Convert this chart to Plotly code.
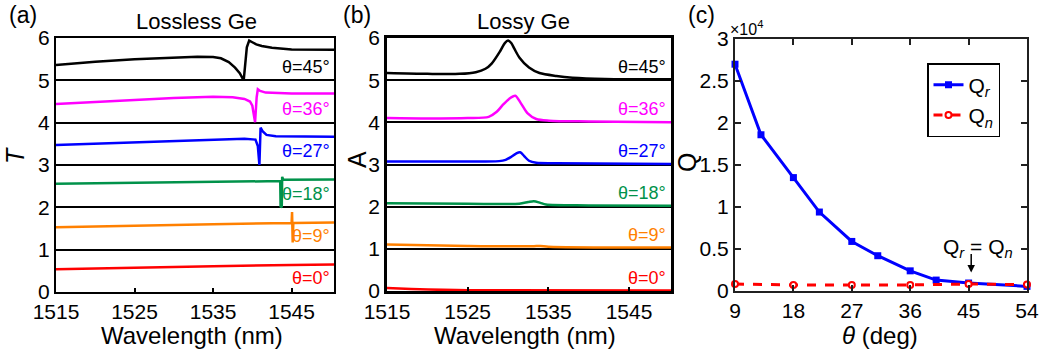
import plotly.graph_objects as go

# ---------------- Panel (a): Lossless Ge, transmission (offset by angle) ----------------
a_labels = ["θ=0°", "θ=9°", "θ=18°", "θ=27°", "θ=36°", "θ=45°"]
colors = ["#FF0000", "#FF8000", "#00924A", "#0000FF", "#FF00FF", "#000000"]

T0_wl = [1515, 1525, 1535, 1545, 1550.4]
T0 = [0.54, 0.58, 0.61, 0.64, 0.65]

T9_wl = [1515, 1525, 1535, 1545.0, 1545.06, 1545.14, 1545.22, 1550.4]
T9 = [1.53, 1.57, 1.60, 1.63, 1.89, 1.17, 1.63, 1.64]

T18_wl = [1515, 1525, 1535, 1543.55, 1543.6, 1543.75, 1543.8, 1543.95, 1550.4]
T18 = [2.56, 2.58, 2.60, 2.62, 2.00, 2.02, 2.72, 2.65, 2.66]

T27_wl = [1515, 1520, 1525, 1530, 1535, 1539, 1540.4, 1540.7, 1540.9, 1541.05, 1541.3, 1541.8, 1543, 1550.4]
T27 = [3.47, 3.50, 3.53, 3.57, 3.60, 3.62, 3.60, 3.45, 3.00, 3.88, 3.80, 3.71, 3.68, 3.67]

T36_wl = [1515, 1520, 1525, 1530, 1535, 1537.5, 1539, 1539.7, 1540.0, 1540.2, 1540.35, 1540.55, 1540.7, 1541, 1541.7, 1545, 1550.4]
T36 = [4.44, 4.49, 4.53, 4.58, 4.61, 4.60, 4.56, 4.50, 4.40, 4.20, 4.01, 4.60, 4.79, 4.75, 4.71, 4.69, 4.69]

T45_wl = [1515, 1520, 1525, 1530, 1533, 1535, 1536, 1537, 1537.8, 1538.4, 1538.7, 1538.9, 1539.3, 1539.6, 1540, 1540.5, 1541.2, 1542.5, 1545, 1550.4]
T45 = [5.36, 5.44, 5.50, 5.54, 5.56, 5.55, 5.52, 5.43, 5.30, 5.17, 5.08, 5.00, 5.78, 5.94, 5.90, 5.85, 5.81, 5.77, 5.73, 5.72]

# ---------------- Panel (b): Lossy Ge, absorption (offset by angle) ----------------
A0_wl = [1515, 1518, 1525, 1550.2]
A0 = [0.07, 0.05, 0.02, 0.01]

A9_wl = [1515, 1525, 1533, 1534, 1535, 1550.2]
A9 = [1.10, 1.07, 1.06, 1.07, 1.05, 1.03]

A18_wl = [1515, 1525, 1531.4, 1532.5, 1533.2, 1534, 1534.7, 1540, 1550.2]
A18 = [2.08, 2.07, 2.07, 2.11, 2.13, 2.09, 2.05, 2.03, 2.02]

A27_wl = [1515, 1522, 1528.9, 1529.7, 1530.3, 1531.0, 1531.5, 1532.0, 1532.6, 1533.5, 1536, 1550.2]
A27 = [3.07, 3.07, 3.08, 3.11, 3.17, 3.26, 3.29, 3.20, 3.09, 3.04, 3.03, 3.01]

A36_wl = [1515, 1520, 1525, 1527.6, 1528.6, 1529.3, 1530.1, 1530.9, 1531.6, 1532.4, 1533.5, 1535.1, 1540, 1550.2]
A36 = [4.10, 4.09, 4.10, 4.13, 4.25, 4.40, 4.55, 4.63, 4.45, 4.22, 4.08, 4.04, 4.02, 4.00]

A45_wl = [1515, 1520, 1524, 1526, 1527.2, 1528, 1529, 1529.6, 1530, 1530.4, 1530.8, 1531.4, 1532.6, 1533.9, 1536, 1538, 1542, 1550.2]
A45 = [5.17, 5.15, 5.15, 5.19, 5.27, 5.40, 5.68, 5.88, 5.94, 5.88, 5.74, 5.54, 5.30, 5.17, 5.10, 5.06, 5.03, 5.02]

# ---------------- Panel (c): Q factors ----------------
theta_r = [9, 13, 18, 22, 27, 31, 36, 40, 45, 54]
Q_r = [27000, 18600, 13500, 9400, 5900, 4200, 2400, 1300, 950, 550]
theta_n = [9, 18, 27, 36, 45, 54]
Q_n = [830, 720, 720, 720, 830, 760]

x_ticks_wl = [1515, 1525, 1535, 1545]
y_ticks_stack = [0, 1, 2, 3, 4, 5, 6]
theta_ticks = [9, 18, 27, 36, 45, 54]
q_tickvals = [0, 5000, 10000, 15000, 20000, 25000, 30000]
q_ticktext = ["0", "0.5", "1", "1.5", "2", "2.5", "3"]

FONT = "Liberation Sans, Arial, sans-serif"
W, H = 1039, 352
TICK = 21

def px(x):
    return x / W

def py(y):
    return 1 - y / H

fig = go.Figure()

T_sets = [(T0_wl, T0), (T9_wl, T9), (T18_wl, T18), (T27_wl, T27), (T36_wl, T36), (T45_wl, T45)]
A_sets = [(A0_wl, A0), (A9_wl, A9), (A18_wl, A18), (A27_wl, A27), (A36_wl, A36), (A45_wl, A45)]

for (xw, yv), c in zip(T_sets, colors):
    fig.add_trace(go.Scatter(x=xw, y=yv, mode="lines", line=dict(color=c, width=2.5),
                             xaxis="x", yaxis="y", showlegend=False))
for (xw, yv), c in zip(A_sets, colors):
    fig.add_trace(go.Scatter(x=xw, y=yv, mode="lines", line=dict(color=c, width=2.5, shape="spline", smoothing=0.8),
                             xaxis="x2", yaxis="y2", showlegend=False))

fig.add_trace(go.Scatter(x=theta_r, y=Q_r, mode="lines+markers", name="Q<sub><i>r</i></sub>",
                         line=dict(color="#0000FF", width=3),
                         marker=dict(symbol="square", size=7, color="#0000FF"),
                         xaxis="x3", yaxis="y3", cliponaxis=False))
fig.add_trace(go.Scatter(x=theta_n, y=Q_n, mode="lines+markers", name="Q<sub><i>n</i></sub>",
                         line=dict(color="#FF0000", width=3, dash="dash"),
                         marker=dict(symbol="circle", size=6, color="white", line=dict(color="#FF0000", width=2)),
                         xaxis="x3", yaxis="y3", cliponaxis=False))

stack_axis = dict(range=[0, 6], tickvals=y_ticks_stack, showgrid=True, gridcolor="black", gridwidth=2,
                  zeroline=False, showline=True, mirror=True, linecolor="black", ticks="", automargin=False,
                  tickfont=dict(family=FONT, size=TICK, color="black"))
wl_axis = dict(tickvals=x_ticks_wl, showgrid=False, zeroline=False, showline=True, mirror=True,
               linecolor="black", ticks="inside", ticklen=4, tickwidth=1.5, tickcolor="black", automargin=False,
               tickfont=dict(family=FONT, size=TICK, color="black"))
q_axis = dict(showgrid=False, zeroline=False, showline=True, mirror="ticks", linecolor="#202020", linewidth=2,
              ticks="inside", ticklen=6, tickwidth=2, tickcolor="#202020", automargin=False,
              ticklabeloverflow="allow", tickfont=dict(family=FONT, size=TICK, color="black"))

fig.update_layout(
    template="none",
    width=W, height=H,
    margin=dict(l=0, r=0, t=0, b=0, pad=0),
    paper_bgcolor="white", plot_bgcolor="white",
    font=dict(family=FONT, color="black"),
    xaxis=dict(domain=[px(56), px(334)], range=[1515, 1550.4], anchor="y", linewidth=2, **wl_axis),
    yaxis=dict(domain=[py(292), py(38)], anchor="x", linewidth=2, **stack_axis),
    xaxis2=dict(domain=[px(387), px(671)], range=[1515, 1550.2], anchor="y2", linewidth=2.5, **wl_axis),
    yaxis2=dict(domain=[py(291), py(38)], anchor="x2", linewidth=2.5, **stack_axis),
    xaxis3=dict(domain=[px(735), px(1027)], range=[9, 54], anchor="y3", tickvals=theta_ticks, **q_axis),
    yaxis3=dict(domain=[py(291), py(39)], range=[0, 30000], anchor="x3", tickvals=q_tickvals,
                ticktext=q_ticktext, **q_axis),
    legend=dict(x=px(927), y=py(63), xanchor="left", yanchor="top", bgcolor="white",
                bordercolor="black", borderwidth=1.5, font=dict(family=FONT, size=21, color="black"),
                tracegroupgap=0, itemwidth=30),
    showlegend=True,
)

ann = []
# curve labels
for i, (lab, c) in enumerate(zip(a_labels, colors)):
    ann.append(dict(text=lab, xref="x domain", yref="y", x=0.994, y=i + 0.32, xanchor="right", yanchor="middle",
                    showarrow=False, font=dict(family=FONT, size=18, color=c)))
    ann.append(dict(text=lab, xref="x2 domain", yref="y2", x=0.99, y=i + 0.32, xanchor="right", yanchor="middle",
                    showarrow=False, font=dict(family=FONT, size=18, color=c)))

def txt(t, x, y, size, angle=0):
    return dict(text=t, xref="paper", yref="paper", x=px(x), y=py(y), xanchor="center", yanchor="middle",
                showarrow=False, textangle=angle, font=dict(family=FONT, size=size, color="black"))

ann += [
    txt("(a)", 23, 15, 23),
    txt("(b)", 357, 15, 23),
    txt("(c)", 701, 15, 23),
    txt("Lossless Ge", 196, 21, 22),
    txt("Lossy Ge", 523, 21, 22),
    txt("Wavelength (nm)", 192, 335, 24),
    txt("Wavelength (nm)", 525, 335, 24),
    txt("<i>θ</i> (deg)", 880, 335, 24),
    txt("<i>T</i>", 15, 156, 25, angle=-90),
    txt("A", 357, 160, 25, angle=-90),
    txt("Q", 687, 163, 25, angle=-90),
    txt("×10<sup>4</sup>", 746, 28, 16),
    txt("Q<sub><i>r</i></sub> = Q<sub><i>n</i></sub>", 978, 248, 21),
    dict(text="", xref="x3", yref="y3", x=45.4, y=2200, ax=0, ay=-20, axref="pixel", ayref="pixel",
         showarrow=True, arrowhead=2, arrowsize=1, arrowwidth=1.5, arrowcolor="black"),
]
fig.update_layout(annotations=ann)

fig.write_html("out.html")
